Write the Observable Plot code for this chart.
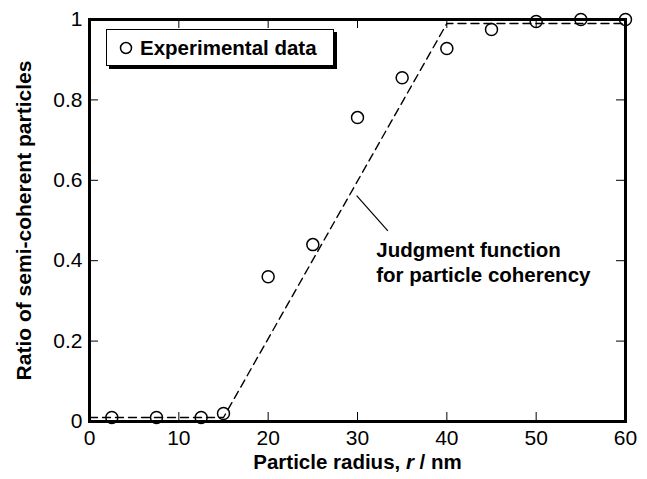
<!DOCTYPE html>
<html>
<head>
<meta charset="utf-8">
<script src="https://cdn.jsdelivr.net/npm/d3@7"></script>
<script src="https://cdn.jsdelivr.net/npm/@observablehq/plot@0.6"></script>
<style>
  html, body { margin: 0; padding: 0; background: #fff; }
  #wrap { position: relative; width: 647px; height: 479px; font-family: "Liberation Sans", Arial, sans-serif; }
  #legend {
    position: absolute; left: 106px; top: 29px; width: 226px; height: 35px;
    border: 1.5px solid #000; box-shadow: 3px 3px 0 #000; background: #fff;
    display: flex; align-items: center; box-sizing: content-box;
  }
  #legend svg { margin-left: 12px; margin-right: 7px; }
  #legend span { font-weight: bold; font-size: 20.5px; color: #000; }
</style>
</head>
<body>
<div id="wrap"></div>
<script>
// Measured fraction of semi-coherent particles by radius class
const radius = [2.5, 7.5, 12.5, 15, 20, 25, 30, 35, 40, 45, 50, 55, 60];
const ratio  = [0.01, 0.01, 0.01, 0.02, 0.36, 0.44, 0.756, 0.855, 0.928, 0.975, 0.995, 1.0, 1.0];

// Piecewise-linear judgment function
const judgeR   = [0, 15, 40, 60];
const judgeVal = [0.01, 0.01, 0.99, 0.99];

// Axis ticks
const xTicks = [0, 10, 20, 30, 40, 50, 60];
const yTicks = [0, 0.2, 0.4, 0.6, 0.8, 1];
const xInner = [10, 20, 30, 40, 50];
const yInner = [0.2, 0.4, 0.6, 0.8];

// Annotation for the dashed curve
const noteLeader = [{x1: 29.9, y1: 0.562, x2: 33.4, y2: 0.474}];
const noteText = [{x: 32.1, y: 0.452, text: "Judgment function\nfor particle coherency"}];

const points = radius.map((r, i) => ({r, v: ratio[i]}));
const judge = judgeR.map((r, i) => ({r, v: judgeVal[i]}));

const W = 647, H = 479;
const mt = 19, mb = 58, ml = 89, mr = 22;
const innerW = W - ml - mr, innerH = H - mt - mb;
const tickLen = 9;
const font = "'Liberation Sans', Arial, sans-serif";

const chart = Plot.plot({
  width: W,
  height: H,
  marginTop: mt,
  marginBottom: mb,
  marginLeft: ml,
  marginRight: mr,
  style: {fontFamily: font, fontSize: "21px", color: "#000", background: "#fff"},
  x: {domain: [0, 60]},
  y: {domain: [0, 1]},
  marks: [
    // inward ticks on all four sides
    Plot.tickX(xInner, {x: d => d, insetTop: innerH - tickLen, stroke: "#000", strokeWidth: 1}),
    Plot.tickX(xInner, {x: d => d, insetBottom: innerH - tickLen, stroke: "#000", strokeWidth: 1}),
    Plot.tickY(yInner, {y: d => d, insetRight: innerW - tickLen, stroke: "#000", strokeWidth: 1}),
    Plot.tickY(yInner, {y: d => d, insetLeft: innerW - tickLen, stroke: "#000", strokeWidth: 1}),
    Plot.axisX(xTicks, {tickSize: 0, tickPadding: 9, label: null, fontSize: 21}),
    Plot.axisY(yTicks, {tickSize: 0, tickPadding: 7, label: null, fontSize: 21, tickFormat: d => String(d)}),
    Plot.frame({stroke: "#000", strokeWidth: 3}),
    Plot.line(judge, {x: "r", y: "v", stroke: "#000", strokeWidth: 1.4, strokeDasharray: "8,5"}),
    Plot.dot(points, {x: "r", y: "v", r: 6, fill: "none", stroke: "#000", strokeWidth: 1.5}),
    Plot.link(noteLeader, {x1: "x1", y1: "y1", x2: "x2", y2: "y2", stroke: "#000", strokeWidth: 1.2}),
    Plot.text(noteText, {x: "x", y: "y", text: "text", textAnchor: "start", lineAnchor: "top",
      lineHeight: 1.2, fontWeight: "bold", fontSize: 20.5, fill: "#000"}),
    Plot.text(["Ratio of semi-coherent particles"], {text: d => d, frameAnchor: "left", rotate: -90,
      textAnchor: "middle", lineAnchor: "middle", dx: -65,
      fontWeight: "bold", fontSize: 21, fill: "#000"}),
    Plot.text(["Particle radius, r / nm"], {text: d => d, frameAnchor: "bottom", dy: 41,
      textAnchor: "middle", lineAnchor: "middle",
      fontWeight: "bold", fontSize: 20.5, fill: "#000", className: "xtitle"})
  ]
});

// italic "r" in the x-axis title
d3.select(chart).selectAll("g.xtitle text").each(function() {
  const t = d3.select(this);
  t.text(null);
  t.append("tspan").text("Particle radius, ");
  t.append("tspan").attr("font-style", "italic").text("r");
  t.append("tspan").text(" / nm");
});

const wrap = document.getElementById("wrap");
wrap.appendChild(chart);

// legend box with drop shadow
const legend = document.createElement("div");
legend.id = "legend";
legend.innerHTML = '<svg width="14" height="14"><circle cx="7" cy="7" r="5.5" fill="none" stroke="#000" stroke-width="1.5"/></svg><span>Experimental data</span>';
wrap.appendChild(legend);
</script>
</body>
</html>
